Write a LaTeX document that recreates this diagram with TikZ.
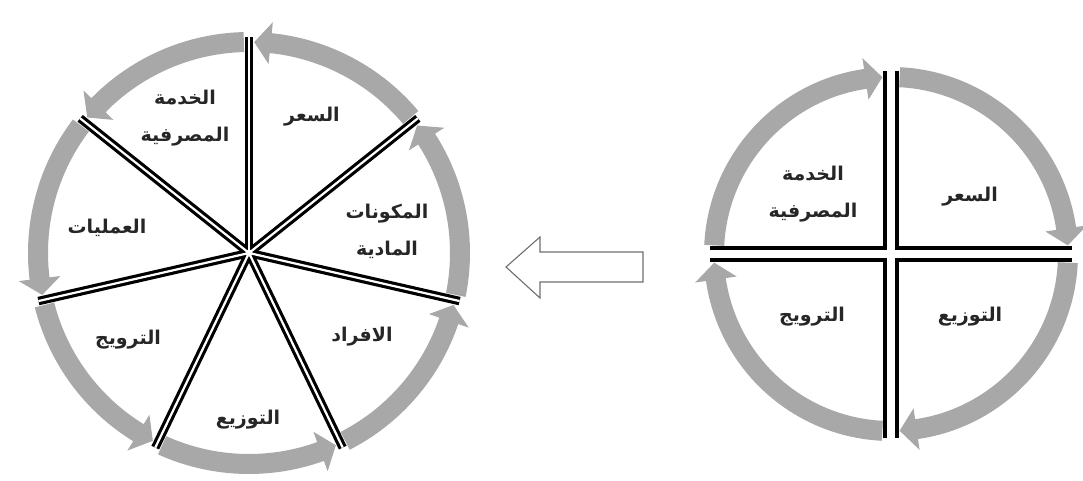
\documentclass[tikz,border=0pt]{standalone}
\usepackage{fontspec}
\newfontfamily\arabicfont[Script=Arabic]{DejaVu Sans}
\TeXXeTstate=1
\definecolor{ringgray}{RGB}{168,168,168}
\definecolor{hollowgray}{RGB}{110,110,110}
\newcommand{\artext}[1]{\beginR #1\endR}
% ring arrow: #1 start angle, #2 end angle, #3 mid radius, #4 sign (+1 ccw, -1 cw), #5 gap deg, #6 head deg
\newcommand{\ringarrow}[6]{%
  \pgfmathsetmacro\rgS{#1+#4*#5}%
  \pgfmathsetmacro\rgB{#2-#4*(#5+#6)}%
  \pgfmathsetmacro\rgT{#2-#4*#5}%
  \pgfmathsetmacro\rgO{#3+10}%
  \pgfmathsetmacro\rgI{#3-10}%
  \pgfmathsetmacro\rgHO{#3+21}%
  \pgfmathsetmacro\rgHI{#3-21}%
  \fill[ringgray] (\rgS:\rgO) arc[start angle=\rgS, end angle=\rgB, radius=\rgO]
     -- (\rgB:\rgHO) -- (\rgT:#3) -- (\rgB:\rgHI) -- (\rgB:\rgI)
     arc[start angle=\rgB, end angle=\rgS, radius=\rgI] -- cycle;%
}
\begin{document}
\begin{tikzpicture}[x=1pt,y=1pt,
  lbl/.style={font=\arabicfont\bfseries\fontsize{19}{37}\selectfont, align=center, inner sep=0pt, text=black!85},
  spokeblack/.style={line width=8.5pt, black},
  spokewhite/.style={line width=2.2pt, white},
  crossblack/.style={line width=16pt, black},
  crosswhite/.style={line width=8pt, white}]
\useasboundingbox (0,0) rectangle (1083,480);

% ---------------- left wheel (7 sectors) ----------------
\begin{scope}[shift={(249,227)}]
  \foreach \k in {0,...,6} {
    \pgfmathsetmacro\th{90-\k*360/7}
    \ringarrow{\th}{\th+360/7}{211}{1}{1.4}{4.5}
  }
  \foreach \k in {0,...,6} {
    \draw[spokeblack] (0,0) -- ({90-\k*360/7}:216);
  }
  \foreach \k in {0,...,6} {
    \draw[spokewhite] (0,0) -- ({90-\k*360/7}:216);
  }
  \fill[white] (0,0) circle (3.5);
\end{scope}

\node[lbl] (l1) at (312,363) {\artext{السعر}};
\node[lbl] (l2) at (387,249) {\artext{المكونات}\\\artext{المادية}};
\node[lbl] (l3) at (362,143) {\artext{الافراد}};
\node[lbl] (l4) at (248,60) {\artext{التوزيع}};
\node[lbl] (l5) at (128,140) {\artext{الترويج}};
\node[lbl] (l6) at (107,252) {\artext{العمليات}};
\node[lbl] (l7) at (185,362) {\artext{الخدمة}\\\artext{المصرفية}};

% ---------------- hollow arrow ----------------
\draw[hollowgray, line width=1.1pt, line join=miter]
  (643,228) -- (540,228) -- (540,243) -- (506,213) -- (540,182) -- (540,198) -- (643,198) -- cycle;

% ---------------- right wheel (4 sectors) ----------------
\begin{scope}[shift={(891,226)}]
  \ringarrow{180}{90}{177}{-1}{2.8}{5.5}
  \ringarrow{90}{0}{177}{-1}{2.8}{5.5}
  \ringarrow{0}{-90}{177}{-1}{2.8}{5.5}
  \ringarrow{-90}{-180}{177}{-1}{2.8}{5.5}
  \draw[crossblack] (-181,0) -- (181,0);
  \draw[crossblack] (0,-184) -- (0,183);
  \draw[crosswhite] (-182,0) -- (182,0);
  \draw[crosswhite] (0,-185) -- (0,184);
\end{scope}

\node[lbl] (r1) at (970,283) {\artext{السعر}};
\node[lbl] (r2) at (813,286) {\artext{الخدمة}\\\artext{المصرفية}};
\node[lbl] (r3) at (970,163) {\artext{التوزيع}};
\node[lbl] (r4) at (812,163) {\artext{الترويج}};
\end{tikzpicture}
\end{document}
